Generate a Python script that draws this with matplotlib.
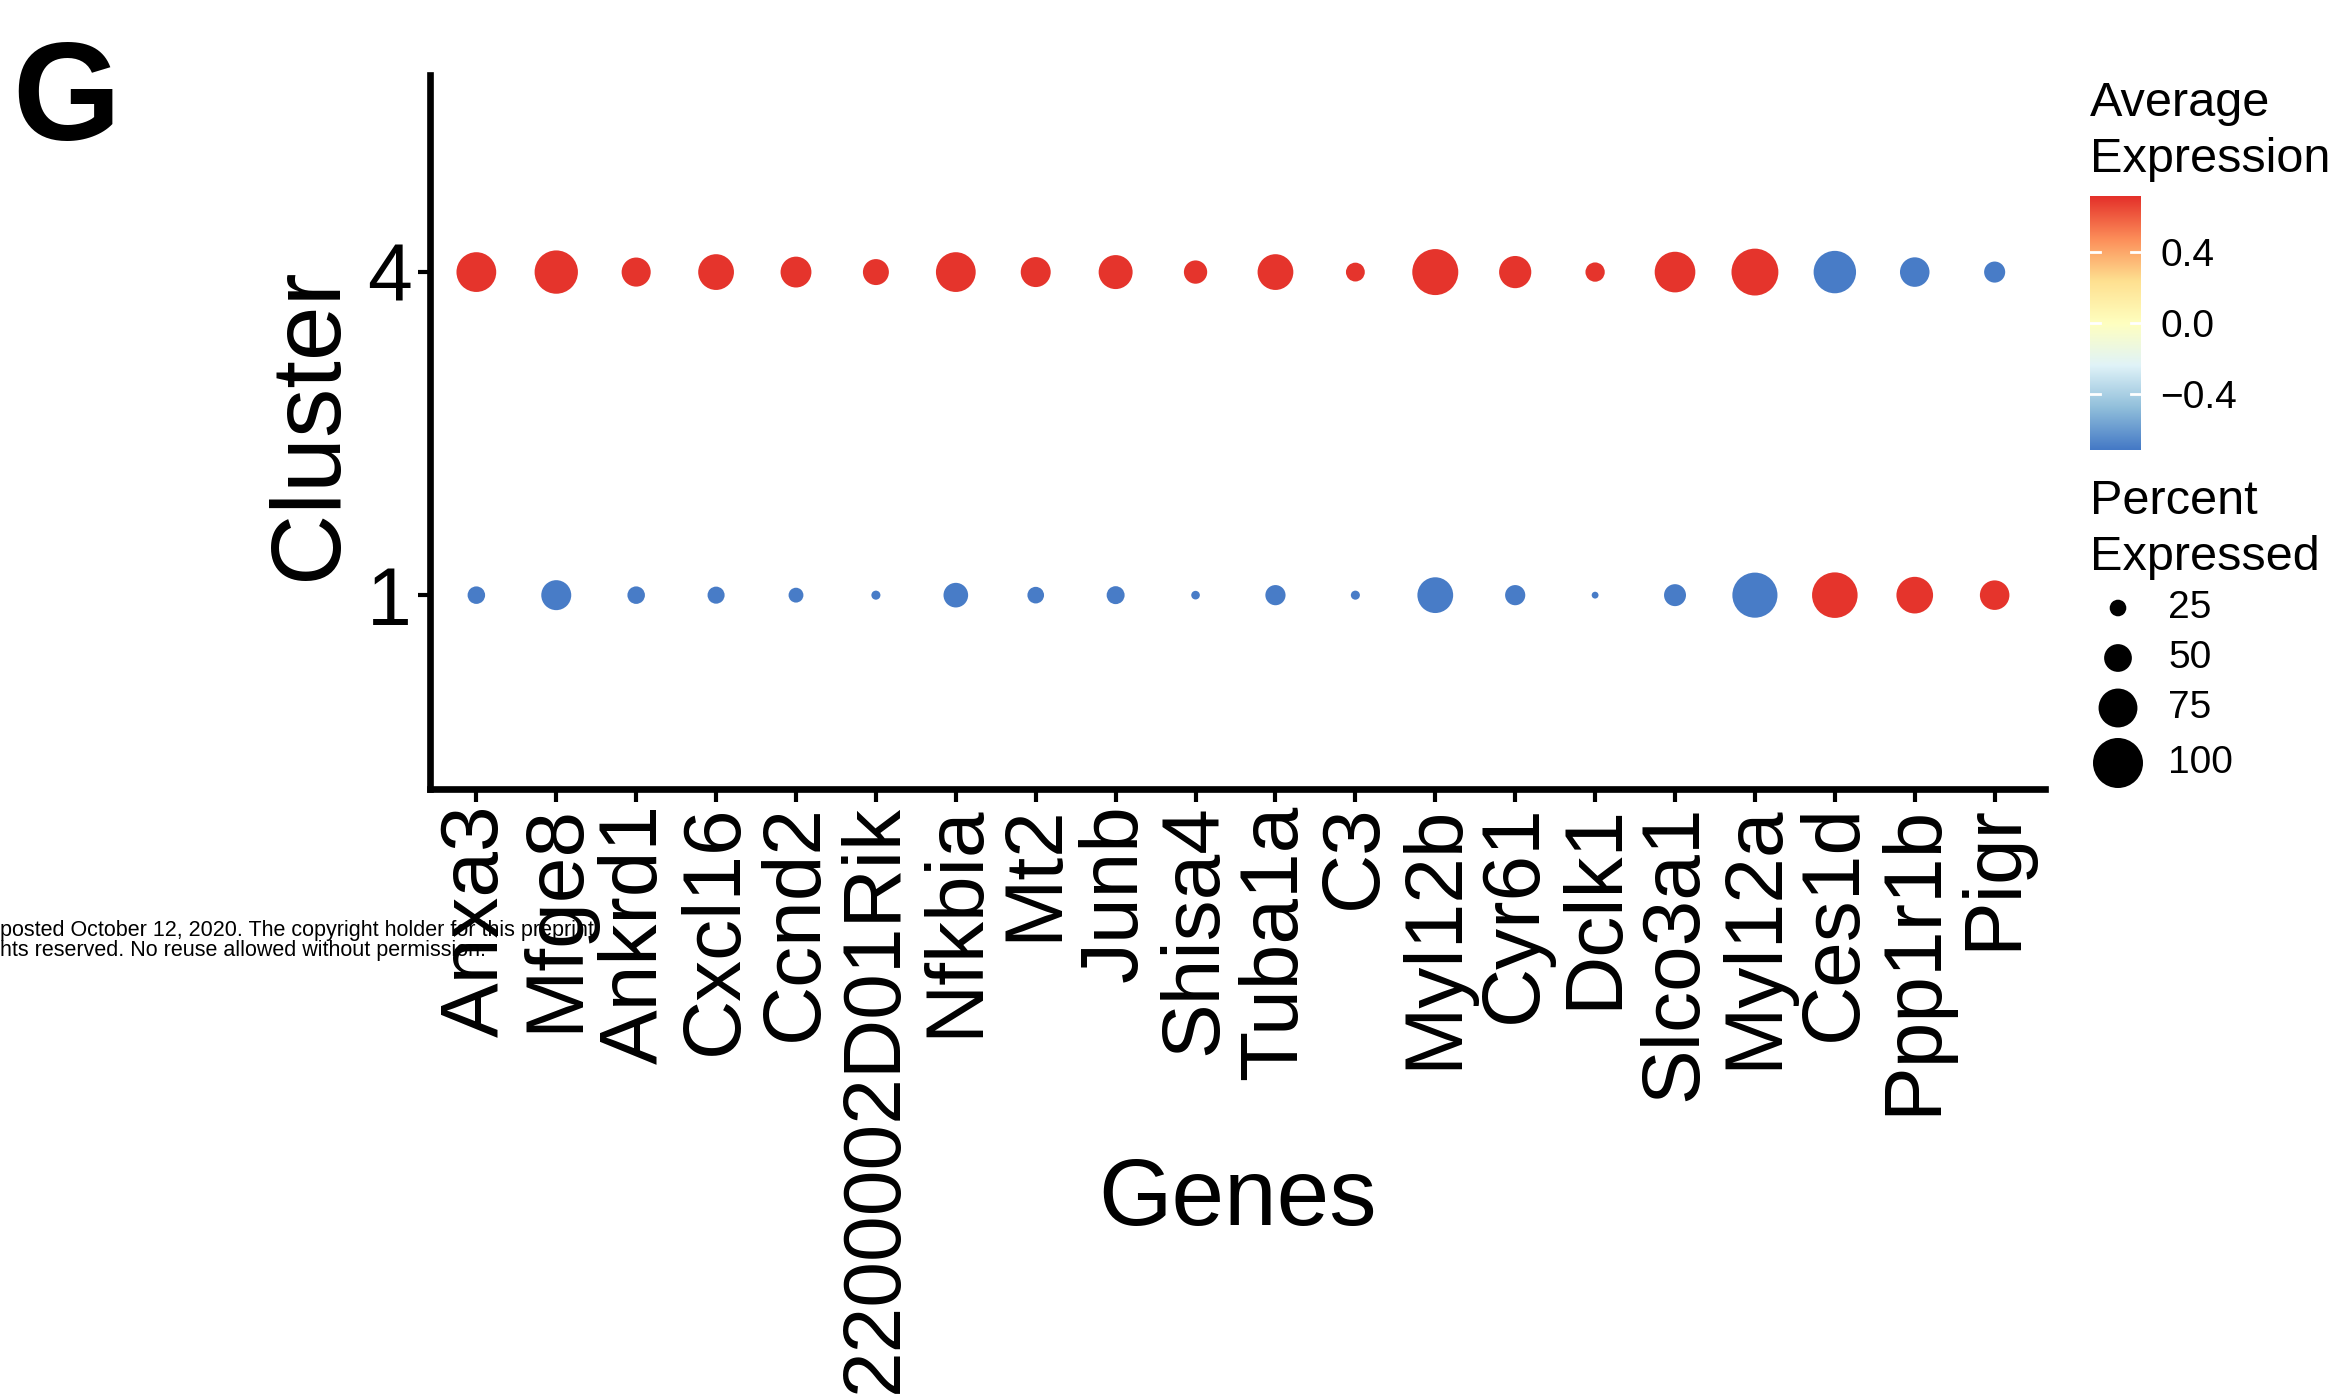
import matplotlib
matplotlib.use("Agg")
import matplotlib.pyplot as plt
import numpy as np
from matplotlib.colors import LinearSegmentedColormap, Normalize

plt.rcParams['font.family'] = ['Liberation Sans', 'DejaVu Sans']

# ---------------- data ----------------
genes = ["Anxa3", "Mfge8", "Ankrd1", "Cxcl16", "Ccnd2", "2200002D01Rik", "Nfkbia",
         "Mt2", "Junb", "Shisa4", "Tuba1a", "C3", "Myl12b", "Cyr61", "Dclk1",
         "Slco3a1", "Myl12a", "Ces1d", "Ppp1r1b", "Pigr"]
clusters = ["1", "4"]

pct_cluster4 = [77, 85, 53, 68, 57, 46, 77, 55, 64, 40, 68, 30, 91, 60, 31,
                79, 93, 83, 54, 35]
pct_cluster1 = [27, 55, 27, 26, 21, 8, 43, 25, 28, 7, 33, 8, 68, 33, 3,
                37, 89, 90, 70, 54]
avg_cluster4 = [0.707] * 17 + [-0.707] * 3
avg_cluster1 = [-0.707] * 17 + [0.707] * 3

cbar_ticks = [-0.4, 0.0, 0.4]
cbar_ticklabels = ["\u22120.4", "0.0", "0.4"]
size_legend_vals = [25, 50, 75, 100]

# ---------------- figure ----------------
W, H, DPI = 2348, 1400, 100
fig = plt.figure(figsize=(W / DPI, H / DPI), dpi=DPI)
fig.patch.set_facecolor("white")

cmap = LinearSegmentedColormap.from_list(
    "rdylbu_r", ["#4479C6", "#91BFDB", "#E0F3F8", "#FFFFBF", "#FEE090", "#FC8D59", "#E4302A"])
norm = Normalize(vmin=-0.72, vmax=0.72)


def size_pts2(p):
    d_px = 5.5 + 0.445 * np.asarray(p, dtype=float)
    d_pt = d_px * 72.0 / DPI
    return d_pt ** 2


def fx(px):
    return px / W


def fy(py):
    return 1 - py / H


# main axes
ax = fig.add_axes([fx(430), fy(789), fx(2045) - fx(430), fy(75) - fy(789)])
xpos = np.arange(len(genes))
for ci, (pcts, avgs) in enumerate([(pct_cluster1, avg_cluster1), (pct_cluster4, avg_cluster4)]):
    ax.scatter(xpos, np.full(len(genes), ci), s=size_pts2(pcts), c=avgs,
               cmap=cmap, norm=norm, edgecolors="none", zorder=3)

ax.set_xlim(-0.58, len(genes) - 1 + 0.63)
ax.set_ylim(-0.6, 1.61)
ax.set_xticks(xpos)
ax.set_xticklabels(genes, rotation=90, fontsize=59, va="top", ha="center")
ax.set_yticks([0, 1])
ax.set_yticklabels(clusters, fontsize=58)
for s in ["top", "right"]:
    ax.spines[s].set_visible(False)
for s in ["left", "bottom"]:
    ax.spines[s].set_linewidth(4.8)
ax.tick_params(axis="both", width=3, length=9, pad=4)
ax.tick_params(axis="x", pad=2)

# axis titles
fig.text(fx(1237), fy(1225), "Genes", fontsize=68, ha="center", va="baseline")
fig.text(fx(311), fy(424), "Cluster", fontsize=71, rotation=90, ha="center", va="center")

# panel letter
fig.text(fx(12), fy(140), "G", fontsize=100, fontweight="bold", ha="left", va="baseline")

# watermark text
fig.text(0, fy(936), "posted October 12, 2020. The copyright holder for this preprint",
         fontsize=15.5, ha="left", va="baseline")
fig.text(0, fy(956), "hts reserved. No reuse allowed without permission.",
         fontsize=15.5, ha="left", va="baseline")

# colour legend
fig.text(fx(2090), fy(116), "Average", fontsize=35, ha="left", va="baseline")
fig.text(fx(2090), fy(172), "Expression", fontsize=35, ha="left", va="baseline")
cax = fig.add_axes([fx(2090), fy(450), fx(2141) - fx(2090), fy(196) - fy(450)])
grad = np.linspace(-0.72, 0.72, 256).reshape(-1, 1)
cax.imshow(grad, aspect="auto", cmap=cmap, norm=norm, origin="lower",
           extent=[0, 1, -0.72, 0.72])
cax.set_xlim(0, 1)
cax.set_ylim(-0.72, 0.72)
cax.set_xticks([])
cax.set_yticks(cbar_ticks)
cax.set_yticklabels(cbar_ticklabels, fontsize=28)
cax.yaxis.tick_right()
cax.tick_params(axis="y", length=0, pad=14)
for s in cax.spines.values():
    s.set_visible(False)
for t in cbar_ticks:
    cax.plot([0, 0.2], [t, t], color="white", lw=2)
    cax.plot([0.8, 1], [t, t], color="white", lw=2)

# size legend
fig.text(fx(2090), fy(514), "Percent", fontsize=35, ha="left", va="baseline")
fig.text(fx(2090), fy(570), "Expressed", fontsize=35, ha="left", va="baseline")
lax = fig.add_axes([fx(2060), fy(800), fx(2340) - fx(2060), fy(590) - fy(800)])
lax.set_xlim(2060, 2340)
lax.set_ylim(800, 590)
lax.axis("off")
leg_y = [608, 658, 708, 763]
lax.scatter([2118] * len(size_legend_vals), leg_y, s=size_pts2(size_legend_vals),
            color="black", edgecolors="none")
for v, yy in zip(size_legend_vals, leg_y):
    lax.text(2168, yy, str(v), fontsize=28, ha="left", va="center")

fig.savefig("out.png", dpi=DPI, facecolor="white")
